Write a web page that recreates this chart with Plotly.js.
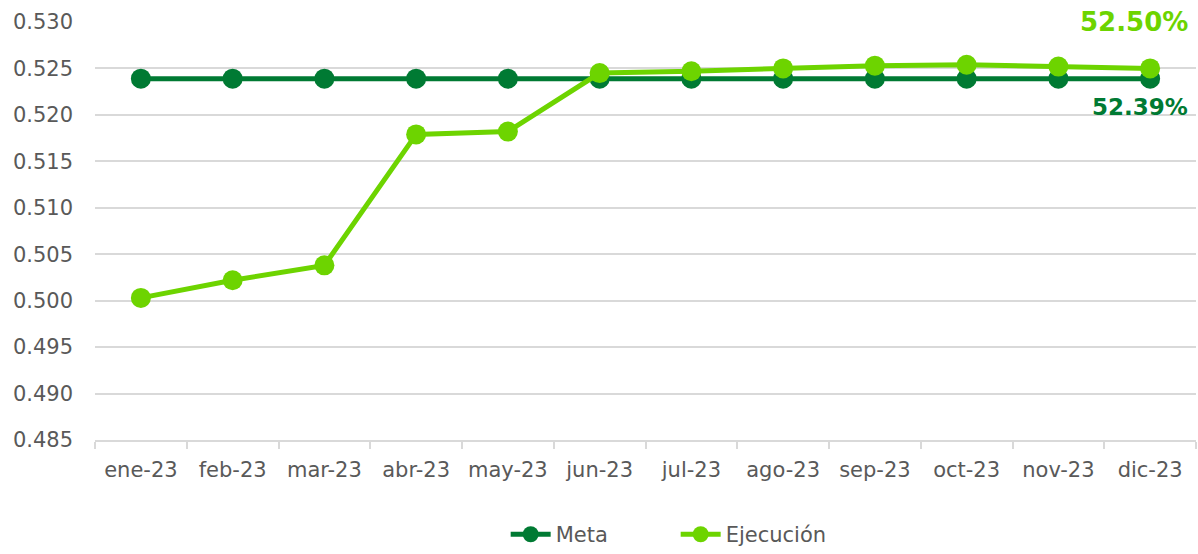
<!DOCTYPE html>
<html>
<head>
<meta charset="utf-8">
<script src="https://cdn.plot.ly/plotly-3.0.1.min.js"></script>
<style>html,body{margin:0;padding:0;background:#fff;}#chart{width:1198px;height:554px;}</style>
</head>
<body>
<div id="chart"></div>
<script>
const categories = ['ene-23','feb-23','mar-23','abr-23','may-23','jun-23','jul-23','ago-23','sep-23','oct-23','nov-23','dic-23'];
const meta = [0.5239,0.5239,0.5239,0.5239,0.5239,0.5239,0.5239,0.5239,0.5239,0.5239,0.5239,0.5239];
const ejecucion = [0.5003,0.5022,0.5038,0.5179,0.5182,0.5245,0.5247,0.5250,0.5253,0.5254,0.5252,0.5250];
const yTicks = [0.485,0.490,0.495,0.500,0.505,0.510,0.515,0.520,0.525,0.530];

const darkGreen = '#007A33';
const lightGreen = '#6DD400';
const font = 'DejaVu Sans, Verdana, sans-serif';

const traces = [
  {x: categories, y: meta, name: 'Meta', type: 'scatter', mode: 'lines+markers',
   line: {color: darkGreen, width: 5}, marker: {color: darkGreen, size: 20}},
  {x: categories, y: ejecucion, name: 'Ejecución', type: 'scatter', mode: 'lines+markers',
   line: {color: lightGreen, width: 5}, marker: {color: lightGreen, size: 20}}
];

const last = categories.length - 1;
const layout = {
  width: 1198, height: 554,
  margin: {l: 95, r: 2, t: 22, b: 114, autoexpand: false},
  paper_bgcolor: '#fff', plot_bgcolor: '#fff',
  font: {family: font, size: 21, color: '#595959'},
  showlegend: true,
  legend: {orientation: 'h', xref: 'container', yref: 'container', x: 0.564, xanchor: 'center',
           y: 0.035, yanchor: 'middle', entrywidth: 115,
           font: {family: font, size: 21, color: '#595959'}, itemwidth: 40},
  xaxis: {type: 'category', range: [-0.5, 11.5], showgrid: false, showline: true,
          linecolor: '#d9d9d9', linewidth: 2, ticks: 'outside', tickson: 'boundaries',
          tickcolor: '#d9d9d9', tickwidth: 2, ticklen: 7, zeroline: false, automargin: false,
          ticklabelstandoff: 10,
          tickfont: {family: font, size: 21, color: '#595959'}},
  yaxis: {range: [0.485, 0.530], tickvals: yTicks, ticktext: yTicks.map(v => v.toFixed(3)),
          showgrid: true, gridcolor: '#d9d9d9', gridwidth: 2, zeroline: false, showline: false,
          ticks: '', ticklabelstandoff: 21, automargin: false,
          tickfont: {family: font, size: 21, color: '#595959'}},
  annotations: [
    {x: categories[last], y: ejecucion[last], xref: 'x', yref: 'y',
     text: '<b>' + (ejecucion[last]*100).toFixed(2) + '%</b>', showarrow: false,
     xanchor: 'right', xshift: 40, yshift: 46,
     font: {family: font, size: 26, color: lightGreen}},
    {x: categories[last], y: meta[last], xref: 'x', yref: 'y',
     text: '<b>' + (meta[last]*100).toFixed(2) + '%</b>', showarrow: false,
     xanchor: 'right', xshift: 40, yshift: -28,
     font: {family: font, size: 23, color: darkGreen}}
  ]
};

Plotly.newPlot('chart', traces, layout, {displayModeBar: false, staticPlot: true});
</script>
</body>
</html>
